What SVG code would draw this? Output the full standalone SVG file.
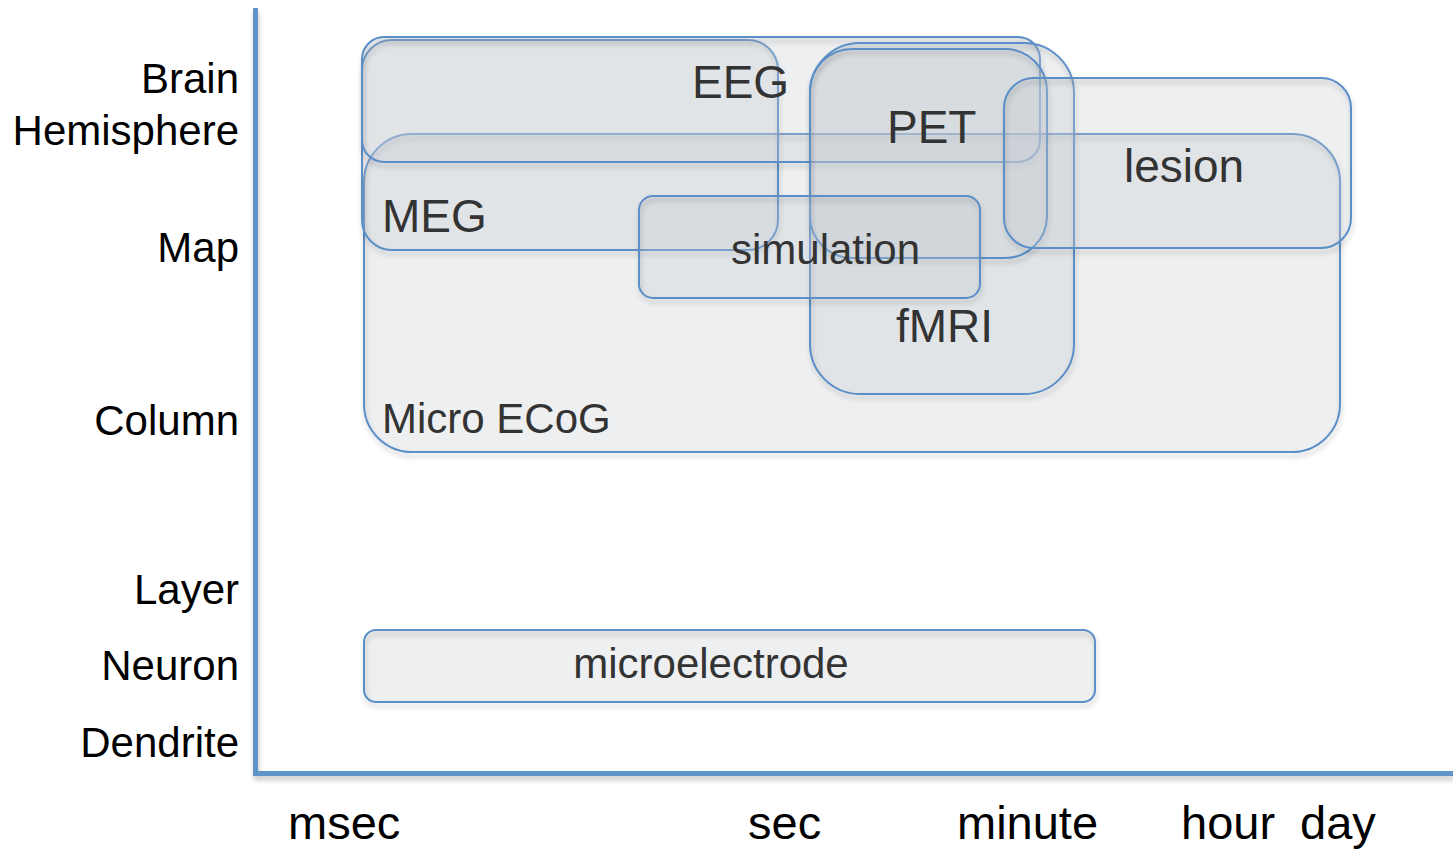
<svg xmlns="http://www.w3.org/2000/svg" width="1453" height="849" viewBox="0 0 1453 849">
  <defs>
    <filter id="sh" filterUnits="userSpaceOnUse" x="0" y="0" width="1453" height="849">
      <feDropShadow dx="1" dy="4" stdDeviation="2.5" flood-color="#000" flood-opacity="0.22"/>
    </filter>
  </defs>
  <style>
    .bf { fill: #c5c9d0; fill-opacity: 0.3; stroke: none; }
    .bs { fill: none; stroke: #5b8ec7; stroke-width: 2; }
    .lbl { font-family: "Liberation Sans", Arial, sans-serif; fill: #333; }
    .big { font-size: 46px; }
    .mid { font-size: 42px; }
    .axl { font-family: "Liberation Sans", Arial, sans-serif; font-size: 42px; fill: #000; text-anchor: end; }
    .axb { font-family: "Liberation Sans", Arial, sans-serif; font-size: 47px; fill: #000; }
    .axis { fill: #5f94c8; }
  </style>
  <rect width="1453" height="849" fill="#fff"/>

  <g id="axes" filter="url(#sh)">
    <rect class="axis" x="253" y="8" width="5" height="768"/>
    <rect class="axis" x="253" y="771" width="1200" height="5"/>
  </g>

  <g id="y-labels">
    <text class="axl" x="239" y="93">Brain</text>
    <text class="axl" x="239" y="145">Hemisphere</text>
    <text class="axl" x="239" y="262">Map</text>
    <text class="axl" x="239" y="435">Column</text>
    <text class="axl" x="239" y="604">Layer</text>
    <text class="axl" x="239" y="680">Neuron</text>
    <text class="axl" x="239" y="757">Dendrite</text>
  </g>

  <g id="x-labels">
    <text class="axb" x="288" y="839">msec</text>
    <text class="axb" x="748" y="839">sec</text>
    <text class="axb" x="957" y="839">minute</text>
    <text class="axb" x="1181" y="839">hour</text>
    <text class="axb" x="1300" y="839">day</text>
  </g>

  <g id="micro-ecog">
    <rect class="bf" x="364" y="134" width="976" height="318" rx="48"/>
    <rect class="bs" filter="url(#sh)" x="364" y="134" width="976" height="318" rx="48"/>
    <text class="lbl mid" x="382" y="433">Micro ECoG</text>
  </g>
  <g id="MEG">
    <rect class="bf" x="362" y="40" width="416" height="210" rx="30"/>
    <rect class="bs" filter="url(#sh)" x="362" y="40" width="416" height="210" rx="30"/>
    <text class="lbl big" x="382" y="232">MEG</text>
  </g>
  <g id="EEG">
    <rect class="bf" x="362" y="37" width="678" height="125" rx="22"/>
    <rect class="bs" filter="url(#sh)" x="362" y="37" width="678" height="125" rx="22"/>
    <text class="lbl big" x="692" y="98">EEG</text>
  </g>
  <g id="fMRI">
    <rect class="bf" x="810" y="43" width="264" height="351" rx="50"/>
    <rect class="bs" filter="url(#sh)" x="810" y="43" width="264" height="351" rx="50"/>
    <text class="lbl big" x="896" y="342">fMRI</text>
  </g>
  <g id="PET">
    <rect class="bf" x="810" y="49" width="237" height="209" rx="42"/>
    <rect class="bs" filter="url(#sh)" x="810" y="49" width="237" height="209" rx="42"/>
    <text class="lbl big" x="887" y="143">PET</text>
  </g>
  <g id="lesion">
    <rect class="bf" x="1004" y="78" width="347" height="170" rx="30"/>
    <rect class="bs" filter="url(#sh)" x="1004" y="78" width="347" height="170" rx="30"/>
    <text class="lbl big" x="1124" y="182">lesion</text>
  </g>
  <g id="simulation">
    <rect class="bf" x="639" y="196" width="341" height="102" rx="14"/>
    <rect class="bs" filter="url(#sh)" x="639" y="196" width="341" height="102" rx="14"/>
    <text class="lbl mid" x="731" y="264">simulation</text>
  </g>
  <g id="microelectrode">
    <rect class="bf" x="364" y="630" width="731" height="72" rx="12"/>
    <rect class="bs" filter="url(#sh)" x="364" y="630" width="731" height="72" rx="12"/>
    <text class="lbl mid" x="711" y="678" text-anchor="middle">microelectrode</text>
  </g>
  <g id="connectors"/>
</svg>
